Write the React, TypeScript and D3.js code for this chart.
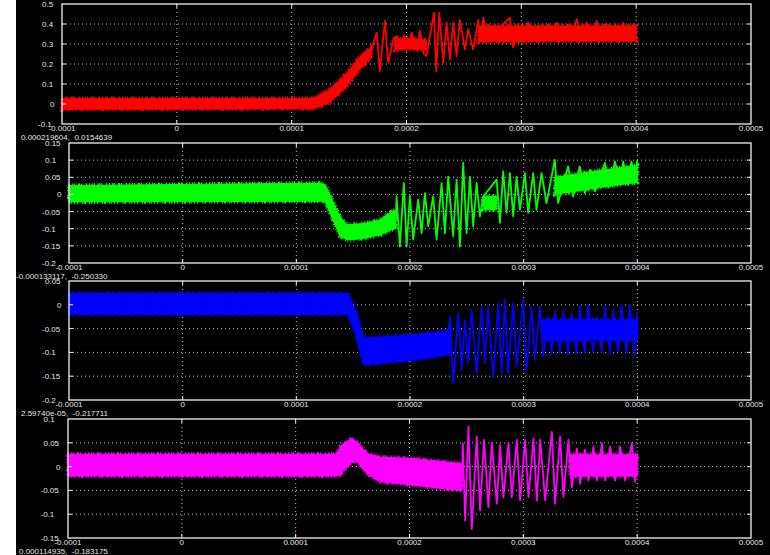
import React, { useEffect, useRef } from 'react';
import * as d3 from 'd3';

// time axis in microseconds, tick labels printed in seconds
const xTicks = [-100, 0, 100, 200, 300, 400, 500];
const xTickLabels = ['-0.0001', '0', '0.0001', '0.0002', '0.0003', '0.0004', '0.0005'];

const redYTicks = [-0.1, 0, 0.1, 0.2, 0.3, 0.4, 0.5];
const redYLabels = ['-0.1', '0', '0.1', '0.2', '0.3', '0.4', '0.5'];
const greenYTicks = [-0.2, -0.15, -0.1, -0.05, 0, 0.05, 0.1, 0.15];
const greenYLabels = ['-0.2', '-0.15', '-0.1', '-0.05', '0', '0.05', '0.1', '0.15'];
const blueYTicks = [-0.2, -0.15, -0.1, -0.05, 0, 0.05];
const blueYLabels = ['-0.2', '-0.15', '-0.1', '-0.05', '0', '0.05'];
const magentaYTicks = [-0.15, -0.1, -0.05, 0, 0.05, 0.1];
const magentaYLabels = ['-0.15', '-0.1', '-0.05', '0', '0.05', '0.1'];

const readouts = [
  '0.000219604,  0.0154639',
  '-0.000133117,  -0.250330',
  '2.59740e-05,  -0.217711',
  '0.000114935,  -0.183175',
];

// noisy band envelopes (null = gap)
const redBandT = [-100, 107, 118.5, 133.3, 148.1, 159.4, 169.6, 180, 189.9, 200, 217, 240, 262.5, 330, 400];
const redBandHi = [0.028, 0.028, 0.028, 0.073, 0.155, 0.238, 0.285, null, 0.325, 0.33, 0.32, null, 0.39, 0.39, 0.39];
const redBandLo = [-0.027, -0.024, -0.025, 0.008, 0.09, 0.173, 0.235, null, 0.27, 0.275, 0.27, null, 0.31, 0.315, 0.315];

// oscillation peaks / troughs
const redWaveT = [169.6, 174.0, 176.8, 181.2, 184.1, 188.4, 191.4, 194.3, 197.7, 201.5, 204.4, 208.8, 211.7, 215.2,
  217.5, 223.9, 225.9, 228.5, 232.0, 234.9, 237.8, 240.7, 243.6, 246.5, 250.9, 253.7, 258.1, 262.5, 264.7, 266.9,
  271.2, 275.5, 279.9, 284.2, 290.1, 292.9, 297.3, 301.7, 306.0, 310.4, 314.7, 319.1, 323.4, 327.8, 330.7, 335.1,
  340.8, 343.8, 348.2, 352.5, 356.9, 361.2, 365.6, 368.5, 372.8, 377.2, 381.5, 385.9, 388.8, 393.1, 397.5, 400];
const redWaveV = [0.273, 0.357, 0.165, 0.415, 0.207, 0.323, 0.34, 0.273, 0.34, 0.282, 0.357, 0.273, 0.365, 0.249,
  0.24, 0.457, 0.165, 0.457, 0.207, 0.407, 0.223, 0.407, 0.24, 0.42, 0.273, 0.373, 0.273, 0.42, 0.32, 0.432,
  0.307, 0.39, 0.324, 0.399, 0.432, 0.282, 0.399, 0.324, 0.407, 0.332, 0.39, 0.34, 0.399, 0.34, 0.407, 0.332,
  0.399, 0.332, 0.424, 0.34, 0.407, 0.332, 0.415, 0.34, 0.399, 0.34, 0.399, 0.34, 0.407, 0.332, 0.399, 0.324];

const greenBandT = [-100, 120.7, 125.1, 138.4, 144.2, 150.0, 161.8, 173.5, 183.8, 187.6, 220, 264.4, 276.2, 300, 327.4, 367.0, 400];
const greenBandHi = [0.026, 0.033, 0.03, -0.064, -0.088, -0.088, -0.083, -0.074, -0.05, -0.045, null, -0.006, -0.006, null, 0.05, 0.07, 0.085];
const greenBandLo = [-0.022, -0.02, -0.02, -0.122, -0.132, -0.132, -0.127, -0.118, -0.103, -0.1, null, -0.045, -0.045, null, 0.0, 0.02, 0.035];

const greenWaveT = [187.6, 188.2, 191.1, 194.6, 197.0, 199.9, 202.8, 207.2, 210.2, 213.1, 216.0, 220.4, 223.4, 227.8,
  230.7, 233.6, 238.0, 241.0, 243.9, 246.8, 249.8, 252.7, 255.6, 258.6, 261.5, 264.4, 276.2, 279.1, 282.0, 285.0,
  287.9, 290.8, 293.8, 296.7, 301.1, 304.0, 308.4, 311.3, 315.7, 320.1, 327.4, 330.3, 339.1, 343.5, 349.4, 353.8,
  358.3, 362.7, 371.5, 375.9, 380.3, 384.7, 387.6, 390.5, 394.9, 397.8, 400];
const greenWaveV = [-0.072, -0.006, -0.152, 0.033, -0.152, -0.006, -0.132, -0.015, -0.113, 0.004, -0.093, -0.006, -0.132, 0.033,
  -0.113, 0.052, -0.122, 0.043, -0.152, 0.092, -0.113, 0.052, -0.093, 0.033, -0.064, -0.006, 0.043, -0.083, 0.067, -0.054,
  0.062, -0.064, 0.052, -0.045, 0.062, -0.054, 0.062, -0.045, 0.062, -0.025, 0.101, -0.025, 0.082, -0.006, 0.082, 0.004,
  0.072, 0.009, 0.092, 0.023, 0.096, 0.033, 0.096, 0.043, 0.096, 0.033, 0.101];

const blueBandT = [-100, 145.6, 153.0, 158.8, 161.2, 202.8, 232.2, 235.1, 280, 316.9, 400];
const blueBandHi = [0.024, 0.024, -0.018, -0.067, -0.07, -0.063, -0.056, -0.055, null, -0.032, -0.032];
const blueBandLo = [-0.02, -0.02, -0.067, -0.123, -0.126, -0.116, -0.105, -0.103, null, -0.074, -0.074];

const blueWaveT = [233, 235.1, 238.0, 242.4, 245.4, 248.3, 251.2, 254.2, 258.6, 263.0, 265.9, 268.8, 273.2, 277.6,
  280.6, 283.5, 286.4, 290.8, 293.8, 299.6, 302.5, 307.0, 309.8, 314.3, 317.2, 321.6, 324.5, 327.4, 331.8, 334.7,
  339.1, 342.1, 346.5, 349.4, 353.8, 356.7, 361.1, 364.1, 368.5, 371.5, 375.9, 378.8, 383.2, 386.1, 390.5, 393.4, 397.8, 400];
const blueWaveV = [-0.08, -0.025, -0.165, -0.018, -0.137, -0.032, -0.123, -0.011, -0.144, -0.004, -0.123, -0.004, -0.151, 0.003,
  -0.144, 0.01, -0.144, 0.003, -0.13, 0.01, -0.137, -0.004, -0.116, -0.004, -0.109, -0.025, -0.102, -0.014, -0.102, -0.014,
  -0.105, -0.018, -0.102, -0.004, -0.102, 0, -0.099, -0.025, -0.099, -0.004, -0.102, -0.011, -0.099, 0, -0.102, 0, -0.105, -0.014];

const magentaBandT = [-100, 136.1, 139.0, 143.4, 149.3, 153.7, 162.5, 174.2, 203.4, 244.5, 246.2, 300, 341.1, 400];
const magentaBandHi = [0.026, 0.026, 0.042, 0.05, 0.059, 0.052, 0.028, 0.02, 0.017, 0.0065, 0.006, null, 0.025, 0.025];
const magentaBandLo = [-0.02, -0.02, -0.018, -0.005, 0.008, 0.012, -0.015, -0.032, -0.039, -0.05, -0.05, null, -0.02, -0.02];

const magentaWaveT = [246.2, 246.8, 248.9, 251.8, 254.7, 259.1, 262.0, 265.5, 269.3, 272.3, 276.7, 279.6, 282.5, 286.9,
  289.9, 294.3, 297.2, 301.6, 304.5, 308.9, 311.9, 314.8, 319.2, 325.0, 327.9, 332.3, 335.2, 339.6, 342.6, 347.0,
  349.9, 354.1, 357.2, 361.6, 364.6, 369.0, 371.9, 376.3, 380.7, 385.1, 389.5, 395.3, 398.2, 400];
const magentaWaveV = [-0.02, 0.049, -0.113, 0.084, -0.131, 0.063, -0.092, 0.056, -0.085, 0.049, -0.078, 0.045, -0.065, 0.049,
  -0.064, 0.056, -0.071, 0.056, -0.064, 0.059, -0.071, 0.056, -0.071, 0.073, -0.078, 0.063, -0.064, 0.056, -0.043, 0.038,
  -0.036, 0.035, -0.029, 0.042, -0.029, 0.049, -0.029, 0.042, -0.029, 0.042, -0.029, 0.049, -0.032, 0.028];

const panels = [
  { color: '#ff0000', l: 62, r: 751, t: 4, b: 124, yDomain: [-0.1, 0.5], yTicks: redYTicks, yLabels: redYLabels,
    lab: { neg: 38, pos: 42, zero: 50 }, readoutX: 21,
    bandT: redBandT, bandHi: redBandHi, bandLo: redBandLo, waveT: redWaveT, waveV: redWaveV },
  { color: '#00ff00', l: 69, r: 751, t: 143, b: 263, yDomain: [-0.2, 0.15], yTicks: greenYTicks, yLabels: greenYLabels,
    lab: { neg: 42, pos: 45, zero: 57 }, readoutX: 16,
    bandT: greenBandT, bandHi: greenBandHi, bandLo: greenBandLo, waveT: greenWaveT, waveV: greenWaveV },
  { color: '#0000ff', l: 69, r: 751, t: 281, b: 400, yDomain: [-0.2, 0.05], yTicks: blueYTicks, yLabels: blueYLabels,
    lab: { neg: 42, pos: 45, zero: 57 }, readoutX: 21,
    bandT: blueBandT, bandHi: blueBandHi, bandLo: blueBandLo, waveT: blueWaveT, waveV: blueWaveV },
  { color: '#ff00ff', l: 68, r: 751, t: 419, b: 538, yDomain: [-0.15, 0.1], yTicks: magentaYTicks, yLabels: magentaYLabels,
    lab: { neg: 40.5, pos: 43.5, zero: 56 }, readoutX: 19,
    bandT: magentaBandT, bandHi: magentaBandHi, bandLo: magentaBandLo, waveT: magentaWaveT, waveV: magentaWaveV },
];

const FONT = '"Liberation Sans", Arial, sans-serif';
const TEXT = '#e6e6e6';

export default function App() {
  const svgRef = useRef<SVGSVGElement>(null);

  useEffect(() => {
    const svg = d3.select(svgRef.current);
    svg.selectAll('*').remove();

    svg.append('rect').attr('width', 770).attr('height', 555).attr('fill', '#fff');
    svg.append('rect').attr('x', 16).attr('width', 754).attr('height', 555).attr('fill', '#000');

    panels.forEach((p, pi) => {
      const x = d3.scaleLinear().domain([-100, 500]).range([p.l, p.r]);
      const y = d3.scaleLinear().domain(p.yDomain).range([p.b, p.t]);
      const g = svg.append('g');

      // dotted grid
      xTicks.slice(1, -1).forEach(tk => {
        g.append('line')
          .attr('x1', x(tk)).attr('x2', x(tk)).attr('y1', p.t).attr('y2', p.b)
          .attr('stroke', '#bdbdbd').attr('stroke-width', 1).attr('stroke-dasharray', '1 3');
      });
      p.yTicks.slice(1, -1).forEach(tk => {
        g.append('line')
          .attr('x1', p.l).attr('x2', p.r).attr('y1', y(tk)).attr('y2', y(tk))
          .attr('stroke', '#bdbdbd').attr('stroke-width', 1).attr('stroke-dasharray', '1 3');
      });

      // noisy band: filled envelope plus a ragged outline for the noise texture
      const band = p.bandT.map((t, i) => ({ t, hi: p.bandHi[i], lo: p.bandLo[i] }));
      const area = d3.area<any>()
        .defined(d => d.hi != null)
        .x(d => x(d.t))
        .y0(d => y(d.lo))
        .y1(d => y(d.hi));
      g.append('path').datum(band)
        .attr('d', area)
        .attr('fill', p.color)
        .attr('stroke', p.color)
        .attr('stroke-width', 1);
      g.append('path').datum(band)
        .attr('d', area)
        .attr('fill', 'none')
        .attr('stroke', p.color)
        .attr('stroke-width', 4)
        .attr('stroke-dasharray', '1 2 1 1 1 3 2 1 1 4 1 2');

      // oscillation
      const wave = p.waveT.map((t, i) => ({ t, v: p.waveV[i] }));
      const line = d3.line<any>().x(d => x(d.t)).y(d => y(d.v));
      g.append('path').datum(wave)
        .attr('d', line)
        .attr('fill', 'none')
        .attr('stroke', p.color)
        .attr('stroke-width', 1.8)
        .attr('stroke-linejoin', 'round');

      // frame
      g.append('rect')
        .attr('x', p.l).attr('y', p.t).attr('width', p.r - p.l).attr('height', p.b - p.t)
        .attr('fill', 'none').attr('stroke', '#f2f2f2').attr('stroke-width', 1.3);

      // inward ticks
      xTicks.slice(1, -1).forEach(tk => {
        g.append('line').attr('x1', x(tk)).attr('x2', x(tk)).attr('y1', p.b).attr('y2', p.b - 4)
          .attr('stroke', '#f2f2f2');
        g.append('line').attr('x1', x(tk)).attr('x2', x(tk)).attr('y1', p.t).attr('y2', p.t + 4)
          .attr('stroke', '#f2f2f2');
      });
      p.yTicks.slice(1, -1).forEach(tk => {
        g.append('line').attr('x1', p.l).attr('x2', p.l + 4).attr('y1', y(tk)).attr('y2', y(tk))
          .attr('stroke', '#f2f2f2');
        g.append('line').attr('x1', p.r).attr('x2', p.r - 4).attr('y1', y(tk)).attr('y2', y(tk))
          .attr('stroke', '#f2f2f2');
      });

      // y labels
      p.yTicks.forEach((tk, i) => {
        const lbl = p.yLabels[i];
        const lx = lbl === '0' ? p.lab.zero : lbl.startsWith('-') ? p.lab.neg : p.lab.pos;
        g.append('text')
          .attr('x', lx).attr('y', y(tk) + 3)
          .attr('fill', TEXT).style('font-family', FONT).style('font-size', '8px')
          .text(lbl);
      });

      // x labels
      xTicks.forEach((tk, i) => {
        g.append('text')
          .attr('x', x(tk)).attr('y', p.b + 7)
          .attr('text-anchor', 'middle')
          .attr('fill', TEXT).style('font-family', FONT).style('font-size', '8px')
          .text(xTickLabels[i]);
      });

      // cursor readout
      g.append('text')
        .attr('x', p.readoutX).attr('y', p.b + 16)
        .attr('fill', TEXT).style('font-family', FONT).style('font-size', '8px')
        .attr('xml:space', 'preserve')
        .text(readouts[pi]);
    });
  }, []);

  return (
    <div style={{ position: 'absolute', left: 0, top: 0, width: 770, height: 555 }}>
      <svg ref={svgRef} width={770} height={555} style={{ display: 'block' }} />
    </div>
  );
}
